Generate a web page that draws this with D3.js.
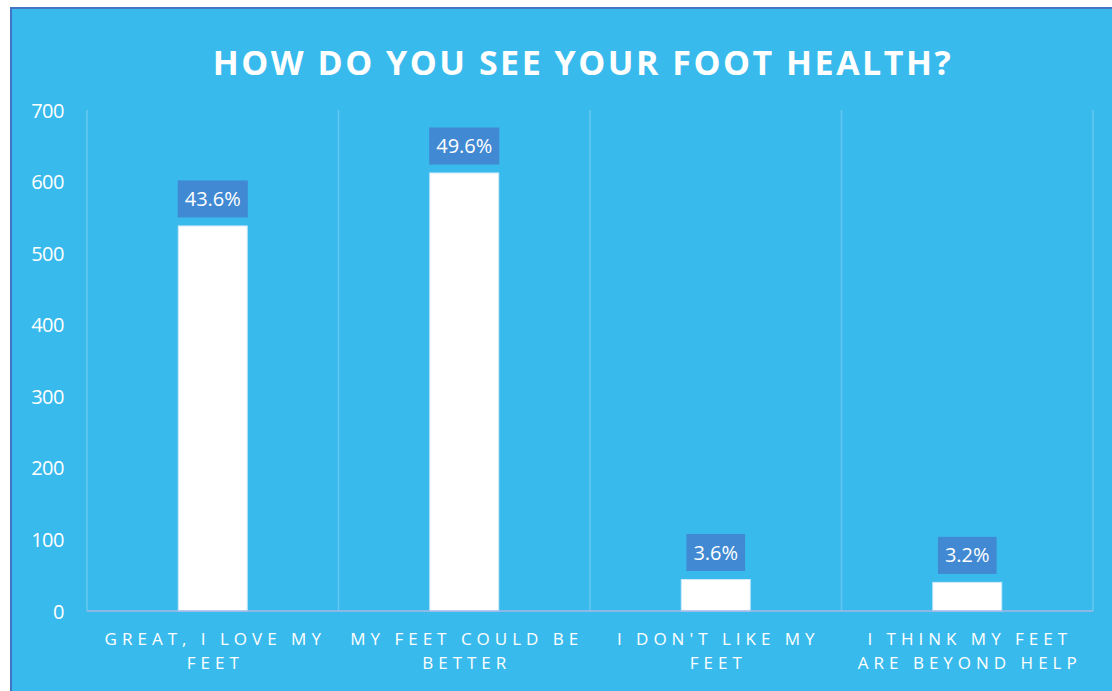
<!DOCTYPE html>
<html>
<head>
<meta charset="utf-8">
<script src="https://cdn.jsdelivr.net/npm/d3@7"></script>
<style>
  html, body { margin: 0; padding: 0; background: #ffffff; }
  svg { display: block; }
  text { font-family: "Open Sans", "Noto Sans", sans-serif; fill: #ffffff; }
</style>
</head>
<body>
<svg id="chart" width="1112" height="691"></svg>
<script>
// Survey responses: how respondents see their own foot health
const title = "HOW DO YOU SEE YOUR FOOT HEALTH?";
const categories = [
  ["GREAT, I LOVE MY", "FEET"],
  ["MY FEET COULD BE", "BETTER"],
  ["I DON'T LIKE MY", "FEET"],
  ["I THINK MY FEET", "ARE BEYOND HELP"]
];
const counts = [538, 612, 44, 40];
const yTicks = [0, 100, 200, 300, 400, 500, 600, 700];

const total = d3.sum(counts);
const pct = d3.format(".1%");

const W = 1112, H = 691;
const svg = d3.select("#chart");

// Card background with thin blue frame
svg.append("rect")
  .attr("x", 11).attr("y", 8)
  .attr("width", W + 10).attr("height", H + 10)
  .attr("fill", "#38baec")
  .attr("stroke", "#4472c4")
  .attr("stroke-width", 2);

const margin = { left: 87, right: 19, top: 110, bottom: 80 };
const plotW = W - margin.left - margin.right;
const plotH = H - margin.top - margin.bottom;

const x = d3.scaleBand()
  .domain(d3.range(categories.length))
  .range([margin.left, margin.left + plotW])
  .paddingInner(0.726)
  .paddingOuter(0.363);

const y = d3.scaleLinear()
  .domain([0, 700])
  .range([margin.top + plotH, margin.top]);

// Title
svg.append("text")
  .attr("x", 583).attr("y", 75)
  .attr("text-anchor", "middle")
  .attr("font-size", 34)
  .attr("font-weight", 700)
  .attr("letter-spacing", 2.5)
  .text(title);

// Vertical separators between categories
const bounds = d3.range(categories.length + 1).map(i => margin.left + i * plotW / categories.length);
svg.append("g")
  .selectAll("line")
  .data(bounds)
  .join("line")
  .attr("x1", d => d).attr("x2", d => d)
  .attr("y1", y(700)).attr("y2", y(0))
  .attr("stroke", "#66c8ef")
  .attr("stroke-width", 1.5);

// Y axis labels
const yAxis = d3.axisLeft(y).tickValues(yTicks).tickSize(0).tickPadding(0);
const gy = svg.append("g")
  .attr("transform", `translate(64,0)`)
  .call(yAxis);
gy.select(".domain").remove();
gy.selectAll("text")
  .attr("font-size", 20)
  .attr("fill", "#ffffff")
  .attr("dy", "0.35em")
  .attr("letter-spacing", -0.5)
  .style("font-family", '"Open Sans", sans-serif');

// Bars
svg.append("g")
  .selectAll("rect")
  .data(counts)
  .join("rect")
  .attr("x", (d, i) => x(i))
  .attr("y", d => y(d))
  .attr("width", x.bandwidth())
  .attr("height", d => y(0) - y(d))
  .attr("fill", "#ffffff")
  .attr("stroke", "#cfe9f8")
  .attr("stroke-width", 1);

// Baseline
svg.append("line")
  .attr("x1", margin.left).attr("x2", margin.left + plotW)
  .attr("y1", y(0)).attr("y2", y(0))
  .attr("stroke", "#a7b7e6")
  .attr("stroke-width", 1.5);

// Percentage labels in boxes above bars
const labels = svg.append("g")
  .selectAll("g")
  .data(counts)
  .join("g")
  .attr("transform", (d, i) => `translate(${x(i) + x.bandwidth() / 2},${y(d) - 27})`);

labels.append("text")
  .attr("text-anchor", "middle")
  .attr("dy", "0.35em")
  .attr("font-size", 20)
  .text(d => pct(d / total))
  .each(function () {
    const bb = this.getBBox();
    d3.select(this.parentNode).insert("rect", "text")
      .attr("x", bb.x - 7)
      .attr("y", -18.5)
      .attr("width", bb.width + 14)
      .attr("height", 37)
      .attr("fill", "#4189d2");
  });

// Category labels (two lines, letter-spaced)
const xl = svg.append("g")
  .selectAll("text")
  .data(categories)
  .join("text")
  .attr("text-anchor", "middle")
  .attr("font-size", 17)
  .attr("letter-spacing", 5)
  .attr("transform", (d, i) => `translate(${x(i) + x.bandwidth() / 2 + 2.5},0)`);
xl.selectAll("tspan")
  .data(d => d)
  .join("tspan")
  .attr("x", 0)
  .attr("y", (d, j) => 645 + j * 24)
  .text(d => d);
</script>
</body>
</html>
